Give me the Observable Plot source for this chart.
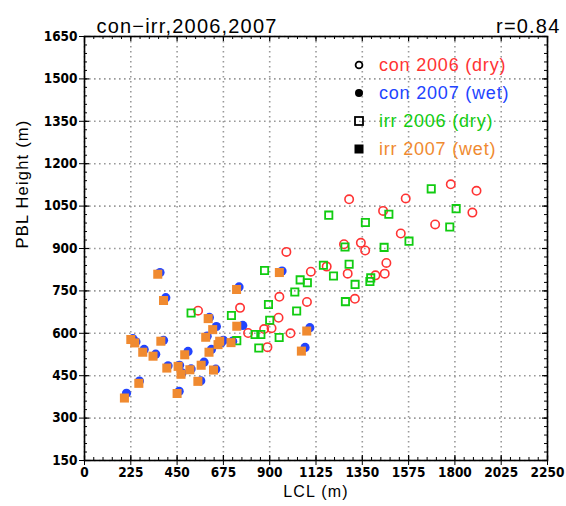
<!DOCTYPE html>
<html><head><meta charset="utf-8">
<script src="https://cdn.jsdelivr.net/npm/d3@7"></script>
<script src="https://cdn.jsdelivr.net/npm/@observablehq/plot@0.6"></script>
<style>
body{margin:0;background:#fff}
#chart{position:relative;width:566px;height:506px}
#legend{position:absolute;left:352px;top:51px;font-family:"Liberation Sans",Arial,sans-serif;font-size:18px;letter-spacing:0.8px}
#legend .row{height:28px;line-height:28px;white-space:nowrap;display:flex;align-items:center}
#legend svg{width:14px;height:14px;margin-right:13px}
</style>
</head><body><div id="chart"><div id="legend"></div></div>
<script>
// ---- data ----
const titleLeft = "con\u2212irr,2006,2007";
const titleRight = "r=0.84";
const xLabel = "LCL (m)";
const yLabel = "PBL Height (m)";
const xTicks = [0,225,450,675,900,1125,1350,1575,1800,2025,2250];
const yTicks = [150,300,450,600,750,900,1050,1200,1350,1500,1650];

const con2006LCL = [981,1286,1561,1451,1537,1261,1343,1364,1467,1100,1177,1279,1414,1459,1314,1081,947,756,943,909,873,795,1001,889,552,1780,1905,1885,1704];
const con2006PBL = [888,1074,1077,1033,953,915,920,893,849,818,836,811,805,811,722,711,729,690,655,618,615,601,600,551,680,1127,1104,1027,985];

const con2007LCL = [204,267,235,250,290,346,384,367,395,406,460,462,474,503,518,565,581,596,607,617,641,638,665,675,720,751,769,960,1095,1072];
const con2007PBL = [388,431,581,570,543,526,575,815,726,485,395,487,460,536,474,432,498,590,656,543,624,473,567,575,572,764,628,820,620,550];

const irr2006LCL = [518,714,740,829,857,847,875,894,900,946,1022,1031,1048,1083,1161,1187,1210,1266,1268,1286,1315,1365,1391,1387,1456,1479,1577,1685,1806,1775];
const irr2006PBL = [672,663,574,596,596,548,822,702,646,585,746,679,789,779,841,1018,803,905,712,844,773,992,796,783,904,1021,926,1111,1041,976];

const irr2007LCL = [194,264,225,244,283,333,371,356,384,400,450,455,469,487,512,551,567,589,601,605,623,627,649,657,712,739,740,947,1080,1054];
const irr2007PBL = [371,423,578,566,533,519,572,809,716,477,387,483,455,524,471,430,487,586,652,533,613,470,560,572,567,755,625,815,608,537];

const seriesNames = ["con 2006 (dry)","con 2007 (wet)","irr 2006 (dry)","irr 2007 (wet)"];
const seriesColors = ["#ff3333","#2244ff","#11cc11","#f08a30"];

// ---- build ----
const zip = (a,b) => a.map((x,i)=>({x, y:b[i]}));
const con2006 = zip(con2006LCL, con2006PBL);
const con2007 = zip(con2007LCL, con2007PBL);
const irr2006 = zip(irr2006LCL, irr2006PBL);
const irr2007 = zip(irr2007LCL, irr2007PBL);

const xMinor = d3.range(0, 2250.1, 45);
const yMinor = d3.range(150, 1650.1, 30);
const tickFont = {fontFamily:"DejaVu Sans Condensed, DejaVu Sans, sans-serif", fontWeight:"bold", fontSize:13.5, fill:"black"};
const plotH = 506 - 36 - 46, plotW = 566 - 84 - 19;

const chart = Plot.plot({
  width: 566, height: 506,
  marginLeft: 84, marginRight: 19, marginTop: 36, marginBottom: 46,
  style: {fontFamily: "Liberation Sans, Arial, sans-serif", background: "white", overflow: "visible"},
  x: {domain: [0, 2250], label: null},
  y: {domain: [150, 1650], label: null},
  marks: [
    Plot.gridX(xTicks, {stroke:"#999", strokeOpacity:1, strokeWidth:1.6, strokeDasharray:"1.6,3.4"}),
    Plot.gridY(yTicks, {stroke:"#999", strokeOpacity:1, strokeWidth:1.6, strokeDasharray:"1.6,3.4"}),
    // minor ticks inward on all sides
    Plot.ruleX(xMinor, {insetTop: plotH - 3, stroke:"black", strokeWidth:1}),
    Plot.ruleX(xMinor, {insetBottom: plotH - 3, stroke:"black", strokeWidth:1}),
    Plot.ruleY(yMinor, {insetRight: plotW - 3, stroke:"black", strokeWidth:1}),
    Plot.ruleY(yMinor, {insetLeft: plotW - 3, stroke:"black", strokeWidth:1}),
    Plot.ruleX(xTicks, {insetTop: plotH - 5, stroke:"black", strokeWidth:1.2}),
    Plot.ruleX(xTicks, {insetBottom: plotH - 5, stroke:"black", strokeWidth:1.2}),
    Plot.ruleY(yTicks, {insetRight: plotW - 5, stroke:"black", strokeWidth:1.2}),
    Plot.ruleY(yTicks, {insetLeft: plotW - 5, stroke:"black", strokeWidth:1.2}),
    Plot.axisX({ticks: xTicks, tickSize: 5, tickPadding: 2, tickFormat: d => String(d), label: null, ...tickFont}),
    Plot.axisY({ticks: yTicks, tickSize: 5, tickPadding: 2, tickFormat: d => String(d), label: null, ...tickFont}),
    Plot.frame({stroke:"black", strokeWidth:1.6}),
    Plot.dot(con2006, {x:"x", y:"y", r:4.2, stroke: seriesColors[0], strokeWidth:1.6, fill:"none"}),
    Plot.dot(con2007, {x:"x", y:"y", r:4.6, fill: seriesColors[1], stroke:"none"}),
    Plot.dot(irr2006, {x:"x", y:"y", symbol:"square", r:4.1, stroke: seriesColors[2], strokeWidth:1.8, fill:"none"}),
    Plot.dot(irr2007, {x:"x", y:"y", symbol:"square", r:5.1, fill: seriesColors[3], stroke:"none"}),
    Plot.text([titleLeft], {frameAnchor:"top-left", dx: 12, dy: -18, textAnchor:"start", fontSize:20, fill:"black"}),
    Plot.text([titleRight], {frameAnchor:"top-right", dx: 13, dy: -18, textAnchor:"end", fontSize:20, fill:"black"}),
    Plot.text([xLabel], {frameAnchor:"bottom", dy: 36, fontSize:16, fill:"black"}),
    Plot.text([yLabel], {frameAnchor:"left", dx: -62, rotate:-90, fontSize:16.5, fill:"black"})
  ]
});
// letter spacing for titles and axis labels
d3.select(chart).selectAll("text").filter(function(){
  const t = this.textContent; return t === titleLeft || t === titleRight || t === xLabel || t === yLabel;
}).style("letter-spacing", "1.2px");
document.getElementById("chart").prepend(chart);

// legend
const markers = [
  '<circle cx="7" cy="7" r="3.4" fill="none" stroke="black" stroke-width="1.8"/>',
  '<circle cx="7" cy="7" r="4" fill="black"/>',
  '<rect x="3" y="3" width="8" height="8" fill="none" stroke="black" stroke-width="1.8"/>',
  '<rect x="2.5" y="2.5" width="9" height="9" fill="black"/>'
];
const leg = document.getElementById("legend");
seriesNames.forEach((n,i)=>{
  const row = document.createElement("div");
  row.className = "row";
  row.innerHTML = `<svg viewBox="0 0 14 14">${markers[i]}</svg><span style="color:${seriesColors[i]}">${n}</span>`;
  leg.appendChild(row);
});
</script>
</body></html>
